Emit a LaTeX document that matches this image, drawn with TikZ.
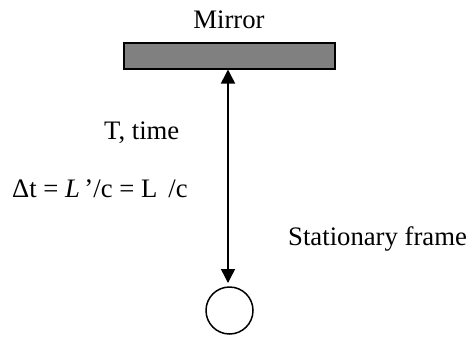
\documentclass[tikz,border=0pt]{standalone}
\usepackage{fontspec}
\setmainfont{Liberation Serif}
\usepackage{tikz}
\usetikzlibrary{arrows.meta,positioning}
\definecolor{mirrorgray}{HTML}{808080}

\begin{document}
\begin{tikzpicture}[x=1pt,y=-1pt,font=\fontsize{26.7}{32}\selectfont,
  mirrorbox/.style={draw=black,line width=1.5pt,fill=mirrorgray,
    minimum width=211pt,minimum height=26pt,inner sep=0pt},
  observer/.style={circle,draw=black,line width=1.5pt,minimum size=47pt,inner sep=0pt},
  label/.style={inner sep=0pt,anchor=base west},
  arr/.style={{Triangle[length=14pt,width=14pt]}-{Triangle[length=14pt,width=14pt]},line width=1.5pt}]
  \useasboundingbox (0,0) rectangle (470,340);

  \node[mirrorbox] (mirror) at (229.5,56) {};
  \node[inner sep=0pt,anchor=base] (mirrorlbl) at (229,28) {Mirror};
  \node[observer] (obs) at (229.5,310.5) {};
  \coordinate (top) at (228,69.5);
  \coordinate (bot) at (228,283);
  \draw[arr] (top) -- (bot);

  \node[label] (tlbl) at (104,139) {T, time};
  \node[label] (dtlbl) at (12,197) {Δt = \textit{L}\,’/c = L\, /c};
  \node[label] (framelbl) at (288,245) {Stationary frame};
\end{tikzpicture}
\end{document}
